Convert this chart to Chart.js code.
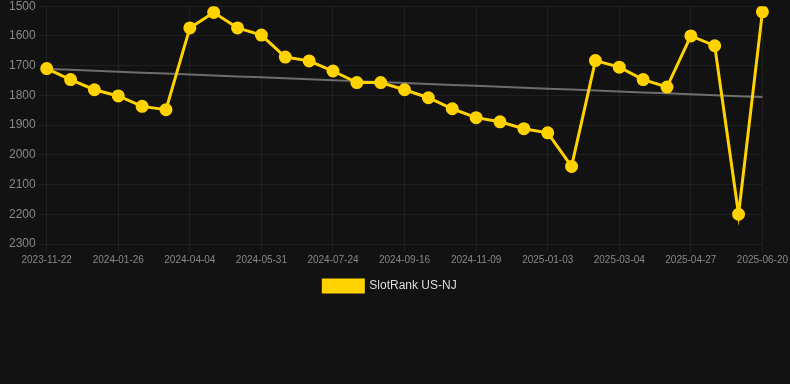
<!DOCTYPE html>
<html>
<head>
<meta charset="utf-8">
<script src="https://cdn.jsdelivr.net/npm/chart.js@4/dist/chart.umd.min.js"></script>
<style>
  html, body { margin: 0; padding: 0; background: #121212; overflow: hidden; }
  #wrap { position: relative; width: 790px; height: 306px; margin-top: -4px; }
</style>
</head>
<body>
<div id="wrap"><canvas id="chart-rank"></canvas></div>
<script>
// data
const dates = [
  '2023-11-22', '2023-12-14', '2024-01-04', '2024-01-26', '2024-02-18', '2024-03-12',
  '2024-04-04', '2024-04-23', '2024-05-12', '2024-05-31', '2024-06-18', '2024-07-06',
  '2024-07-24', '2024-08-11', '2024-08-29', '2024-09-16', '2024-10-04', '2024-10-22',
  '2024-11-09', '2024-11-27', '2024-12-15', '2025-01-03', '2025-01-23', '2025-02-12',
  '2025-03-04', '2025-03-22', '2025-04-09', '2025-04-27', '2025-05-15', '2025-06-02',
  '2025-06-20'
];
const rankNJ = [
  1710, 1747, 1781, 1802, 1837, 1848, 1573, 1521, 1573, 1597, 1671, 1684,
  1718, 1757, 1757, 1781, 1808, 1845, 1875, 1889, 1912, 1926, 2039, 1683,
  1705, 1747, 1772, 1600, 1633, 2200, 1519
];
const seriesLabel = 'SlotRank US-NJ';
const yMin = 1500;
const yMax = 2300;

// least-squares trend line over the series
function trendOf(values) {
  const n = values.length;
  const mx = (n - 1) / 2;
  const my = values.reduce((a, b) => a + b, 0) / n;
  let num = 0, den = 0;
  values.forEach((v, i) => { num += (i - mx) * (v - my); den += (i - mx) * (i - mx); });
  const slope = num / den;
  return values.map((_, i) => my + slope * (i - mx));
}

const ctx = document.getElementById('chart-rank').getContext('2d');
const gridColor = 'rgba(255,255,255,0.06)';
const font = 'Liberation Sans, Arial, sans-serif';

new Chart(ctx, {
  type: 'line',
  data: {
    labels: dates,
    datasets: [
      {
        label: seriesLabel,
        data: rankNJ,
        borderColor: '#ffd200',
        backgroundColor: '#ffd200',
        borderWidth: 3,
        pointRadius: 5,
        pointHoverRadius: 5,
        pointBackgroundColor: '#ffd200',
        pointBorderColor: '#ffd200',
        tension: 0
      },
      {
        label: 'trend',
        data: trendOf(rankNJ),
        borderColor: 'rgba(170,170,170,0.6)',
        borderWidth: 2,
        pointRadius: 0,
        fill: false
      }
    ]
  },
  options: {
    responsive: true,
    maintainAspectRatio: false,
    animation: false,
    layout: { padding: { left: 6, right: 16 } },
    plugins: {
      legend: {
        position: 'bottom',
        labels: {
          color: '#dddddd',
          padding: 12,
          font: { family: font, size: 12 },
          filter: (item) => item.datasetIndex === 0
        }
      },
      tooltip: { enabled: false }
    },
    scales: {
      x: {
        grid: { color: gridColor },
        border: { display: false },
        ticks: {
          color: '#888888',
          maxRotation: 0,
          autoSkip: true,
          padding: 2,
          font: { family: font, size: 10 }
        }
      },
      y: {
        reverse: true,
        min: yMin,
        max: yMax,
        grid: { color: gridColor },
        border: { display: false },
        ticks: {
          stepSize: 100,
          color: '#888888',
          font: { family: font, size: 12 },
          callback: (v) => String(v)
        }
      }
    }
  }
});
</script>
</body>
</html>
